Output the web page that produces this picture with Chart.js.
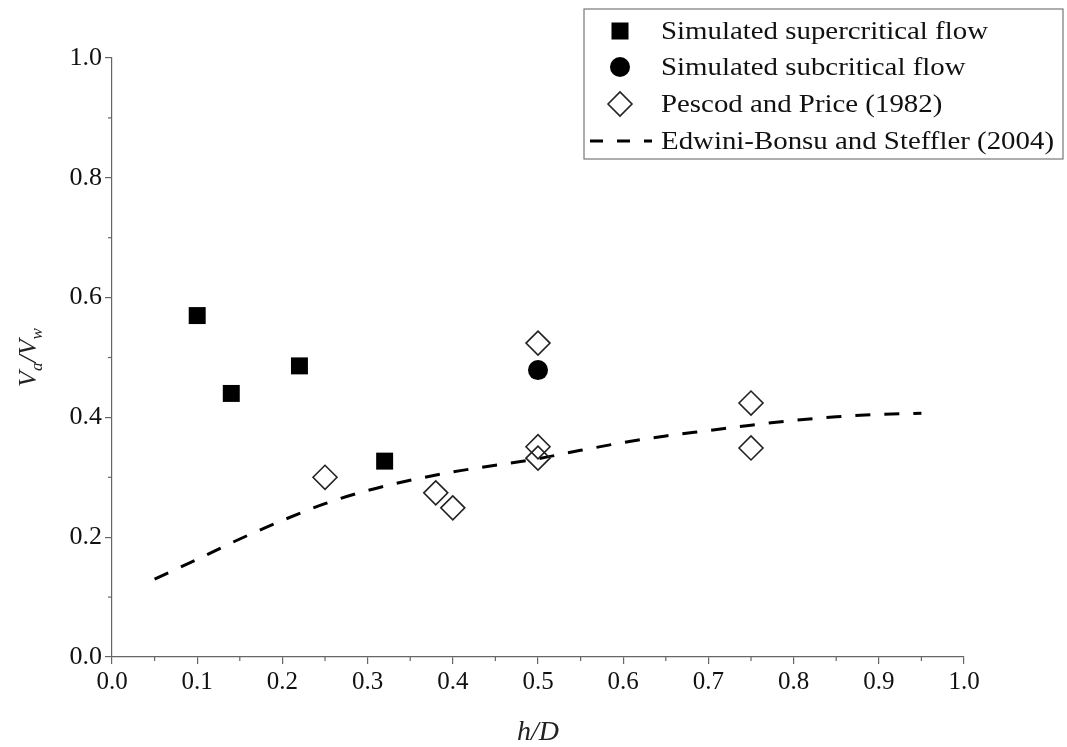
<!DOCTYPE html>
<html>
<head>
<meta charset="utf-8">
<script src="https://cdn.jsdelivr.net/npm/chart.js@4.4.1/dist/chart.umd.min.js"></script>
<style>
  body { margin: 0; background: #fff; }
  #wrap { width: 1067px; height: 747px; }
</style>
</head>
<body>
<div id="wrap"><canvas id="flowChart" width="1067" height="747"></canvas></div>
<script>
// simulated runs
const superX = [0.10, 0.14, 0.22, 0.32];
const superY = [0.570, 0.440, 0.486, 0.327];
const subX = [0.50];
const subY = [0.479];
// Pescod and Price (1982)
const pescodX = [0.25, 0.38, 0.40, 0.50, 0.50, 0.50, 0.75, 0.75];
const pescodY = [0.300, 0.274, 0.249, 0.524, 0.351, 0.332, 0.424, 0.349];
// Edwini-Bonsu and Steffler (2004) curve
const curveX = [0.05, 0.10, 0.15, 0.20, 0.25, 0.30, 0.35, 0.40, 0.45, 0.50, 0.55, 0.60, 0.65, 0.70, 0.75, 0.80, 0.85, 0.90, 0.95];
const curveY = [0.130, 0.163, 0.197, 0.228, 0.256, 0.278, 0.295, 0.309, 0.320, 0.331, 0.345, 0.358, 0.369, 0.378, 0.387, 0.395, 0.401, 0.405, 0.407];

const labels = [
  "Simulated supercritical flow",
  "Simulated subcritical flow",
  "Pescod and Price (1982)",
  "Edwini-Bonsu and Steffler (2004)"
];

const serif = "'Liberation Serif', 'Times New Roman', serif";
const axisColor = "#666";

let pts = (xs, ys) => xs.map((x, i) => ({ x: x, y: ys[i] }));

// minor ticks, axis titles and the boxed legend
const extras = {
  id: "extras",
  afterDraw(chart) {
    const ctx = chart.ctx;
    const xs = chart.scales.x, ys = chart.scales.y;
    const area = chart.chartArea;
    ctx.save();
    ctx.strokeStyle = axisColor;
    ctx.lineWidth = 1.2;
    for (let v = 0.05; v < 1; v += 0.1) {
      let px = xs.getPixelForValue(v);
      ctx.beginPath();
      ctx.moveTo(px, area.bottom);
      ctx.lineTo(px, area.bottom + 4);
      ctx.stroke();
    }
    for (let v = 0.1; v < 1; v += 0.2) {
      let py = ys.getPixelForValue(v);
      ctx.beginPath();
      ctx.moveTo(area.left, py);
      ctx.lineTo(area.left - 4, py);
      ctx.stroke();
    }

    // x title
    ctx.fillStyle = "#222";
    ctx.font = "italic 28px " + serif;
    ctx.textAlign = "center";
    ctx.textBaseline = "alphabetic";
    ctx.fillText("h/D", (area.left + area.right) / 2, 740);

    // y title with subscripts
    const parts = [["V", 26, 0], ["a", 17, 6], ["/V", 26, 0], ["w", 17, 6]];
    let total = 0;
    parts.forEach(p => { ctx.font = "italic " + p[1] + "px " + serif; total += ctx.measureText(p[0]).width; });
    ctx.translate(36, (area.top + area.bottom) / 2);
    ctx.rotate(-Math.PI / 2);
    ctx.textAlign = "left";
    let cx = -total / 2;
    parts.forEach(p => {
      ctx.font = "italic " + p[1] + "px " + serif;
      ctx.fillText(p[0], cx, p[2]);
      cx += ctx.measureText(p[0]).width;
    });
    ctx.restore();

    // legend box
    ctx.save();
    const bx = 584, by = 9, bw = 479, bh = 150;
    ctx.fillStyle = "#fff";
    ctx.fillRect(bx, by, bw, bh);
    ctx.strokeStyle = "#777";
    ctx.lineWidth = 1.2;
    ctx.strokeRect(bx, by, bw, bh);
    const rowY = [31, 67, 104, 141];
    const sx = 620;
    ctx.fillStyle = "#000";
    ctx.fillRect(sx - 8.5, rowY[0] - 8.5, 17, 17);
    ctx.beginPath();
    ctx.arc(sx, rowY[1], 10, 0, Math.PI * 2);
    ctx.fill();
    ctx.beginPath();
    ctx.moveTo(sx - 12, rowY[2]);
    ctx.lineTo(sx, rowY[2] - 12);
    ctx.lineTo(sx + 12, rowY[2]);
    ctx.lineTo(sx, rowY[2] + 12);
    ctx.closePath();
    ctx.strokeStyle = "#222";
    ctx.lineWidth = 1.6;
    ctx.stroke();
    ctx.beginPath();
    ctx.setLineDash([13, 14]);
    ctx.lineWidth = 3;
    ctx.strokeStyle = "#000";
    ctx.moveTo(590, rowY[3]);
    ctx.lineTo(652, rowY[3]);
    ctx.stroke();
    ctx.setLineDash([]);
    ctx.fillStyle = "#111";
    ctx.font = "26px " + serif;
    ctx.textAlign = "left";
    ctx.textBaseline = "middle";
    // the legend lettering is set a little wide
    ctx.translate(661, 0);
    ctx.scale(1.11, 1);
    labels.forEach((t, i) => ctx.fillText(t, 0, rowY[i] + 1));
    ctx.restore();
  }
};

let axisOpts = (fit, size) => ({
  type: "linear",
  min: 0,
  max: 1,
  ticks: {
    stepSize: 0.1,
    color: "#111",
    padding: 3,
    font: { family: serif, size: size },
    callback: (v) => v.toFixed(1)
  },
  grid: { drawOnChartArea: false, drawTicks: true, tickLength: 7, color: axisColor, lineWidth: 1.2 },
  border: { color: axisColor, width: 1.2 },
  afterFit: fit
});

let xAxis = axisOpts((s) => { s.height = 90; }, 25);
let yAxis = axisOpts((s) => { s.width = 112; }, 26);
yAxis.ticks.stepSize = 0.2;

new Chart(document.getElementById("flowChart").getContext("2d"), {
  type: "scatter",
  data: {
    datasets: [
      {
        label: labels[0],
        data: pts(superX, superY),
        pointStyle: "rect",
        pointRadius: 12,
        backgroundColor: "#000",
        borderColor: "#000",
        borderWidth: 0
      },
      {
        label: labels[1],
        data: pts(subX, subY),
        pointStyle: "circle",
        pointRadius: 10,
        backgroundColor: "#000",
        borderColor: "#000",
        borderWidth: 0
      },
      {
        label: labels[2],
        data: pts(pescodX, pescodY),
        pointStyle: "rectRot",
        pointRadius: 12,
        backgroundColor: "rgba(255,255,255,0)",
        borderColor: "#222",
        borderWidth: 1.6
      },
      {
        label: labels[3],
        data: pts(curveX, curveY),
        showLine: true,
        pointRadius: 0,
        borderColor: "#000",
        borderWidth: 3,
        borderDash: [15, 14],
        cubicInterpolationMode: "monotone",
        fill: false
      }
    ]
  },
  options: {
    responsive: false,
    animation: false,
    layout: { padding: { top: 58, right: 103, left: 0, bottom: 0 } },
    plugins: {
      legend: { display: false },
      tooltip: { enabled: false }
    },
    scales: { x: xAxis, y: yAxis }
  },
  plugins: [extras]
});
</script>
</body>
</html>
